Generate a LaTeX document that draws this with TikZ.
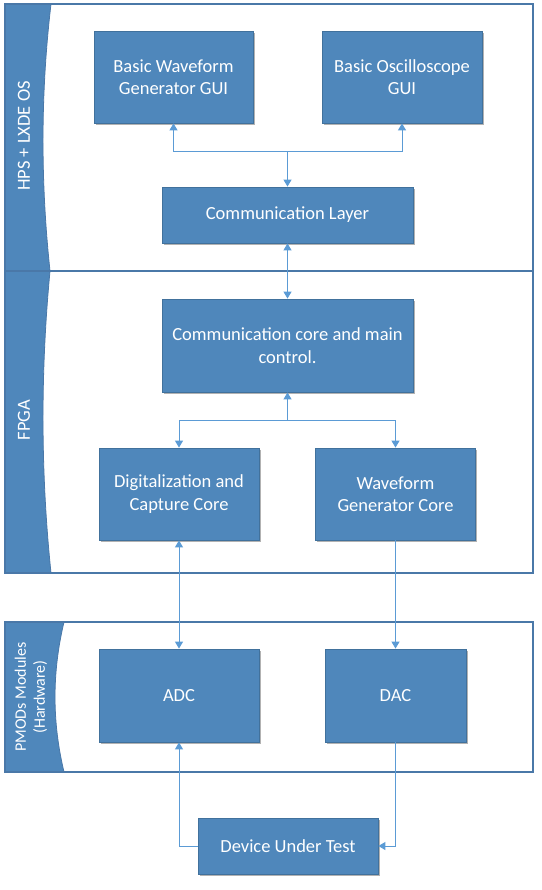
\documentclass[tikz,border=0pt]{standalone}
\usepackage{fontspec}
\setmainfont{Carlito}
\usepackage{tikz}
\usetikzlibrary{positioning,arrows.meta,calc,shadows}

\definecolor{boxblue}{HTML}{4F87BB}
\definecolor{boxedge}{HTML}{41719C}
\definecolor{linkblue}{HTML}{5B9BD5}
\definecolor{laneedge}{HTML}{4A78A8}

\begin{document}
\begin{tikzpicture}[x=1pt,y=-1pt,
    block/.style={rectangle,draw=boxedge,line width=0.8pt,fill=boxblue,text=white,align=center,
      font=\fontsize{18.5}{22.5}\selectfont,inner sep=2pt,
      drop shadow={shadow xshift=1.8pt,shadow yshift=-1.8pt,fill=black,opacity=.3}},
    lane/.style={draw=laneedge,line width=1.2pt},
    band/.style={fill=boxblue,draw=laneedge,line width=0.8pt},
    lanetext/.style={text=white,rotate=90,align=center},
    link/.style={draw=linkblue,line width=1pt,-{Triangle[width=8pt,length=7pt]}},
    both/.style={draw=linkblue,line width=1pt,{Triangle[width=8pt,length=7pt]}-{Triangle[width=8pt,length=7pt]}}]
          \useasboundingbox (0,0) rectangle (541,890);

          % Draw the lanes
          \draw[band] (5,4) -- (51,4) .. controls (40.5,93) and (40.5,182) .. (50,271) -- (5,271) -- cycle;
          \draw[band] (5,271) -- (50,271) .. controls (40.5,371) and (40.5,472) .. (51,573) -- (5,573) -- cycle;
          \draw[band] (5,622) -- (64,622) .. controls (52,672) and (52,722) .. (64,772) -- (5,772) -- cycle;
          \draw[lane] (5,4) rectangle (533,271);
          \draw[lane] (5,271) rectangle (533,573);
          \draw[lane] (5,622) rectangle (533,772);
          \node[lanetext,font=\fontsize{18.5}{22.5}\selectfont] (hps) at (24,136) {HPS + LXDE OS};
          \node[lanetext,font=\fontsize{18.5}{22.5}\selectfont] (fpga) at (24,420) {FPGA};
          \node[lanetext,font=\fontsize{16}{19}\selectfont] (pmod) at (31,697) {PMODs Modules\\(Hardware)};

          % Draw the blocks
          \node[block,minimum width=159pt,minimum height=92pt] (gen) at (173.5,77) {Basic Waveform\\Generator GUI};
          \node[block,minimum width=160pt,minimum height=92pt] (osc) at (402,77) {Basic Oscilloscope\\GUI};
          \node[block,minimum width=251pt,minimum height=56pt] (comm) at (287.5,215) {Communication Layer};
          \node[block,minimum width=251pt,minimum height=93pt] (core) at (287.5,345.5) {Communication core and main\\control.};
          \node[block,minimum width=160pt,minimum height=92pt] (dig) at (179,494) {Digitalization and\\Capture Core};
          \node[block,minimum width=160pt,minimum height=92pt] (wgc) at (395.5,494) {Waveform\\Generator Core};
          \node[block,minimum width=160pt,minimum height=93pt] (adc) at (179,695.5) {ADC};
          \node[block,minimum width=141pt,minimum height=93pt] (dac) at (395.5,695.5) {DAC};
          \node[block,minimum width=180pt,minimum height=56pt] (dut) at (288,846) {Device Under Test};

          % Draw the links
          \coordinate (top fork) at (287.5,152);
          \coordinate (core fork) at (287.5,420);
          \draw[link] (top fork) -- (comm.north);
          \draw[link] (top fork) -| (gen.south);
          \draw[link] (top fork) -| (osc.south);
          \draw[both] (comm.south) -- (core.north);
          \draw[link] (core fork) -- (core.south);
          \draw[link] (core fork) -| (dig.north);
          \draw[link] (core fork) -| (wgc.north);
          \draw[both] (dig.south) -- (adc.north);
          \draw[link] (wgc.south) -- (dac.north);
          \draw[link] (dut.west) -| (adc.south);
          \draw[link] (dac.south) |- (dut.east);

\end{tikzpicture}
\end{document}
